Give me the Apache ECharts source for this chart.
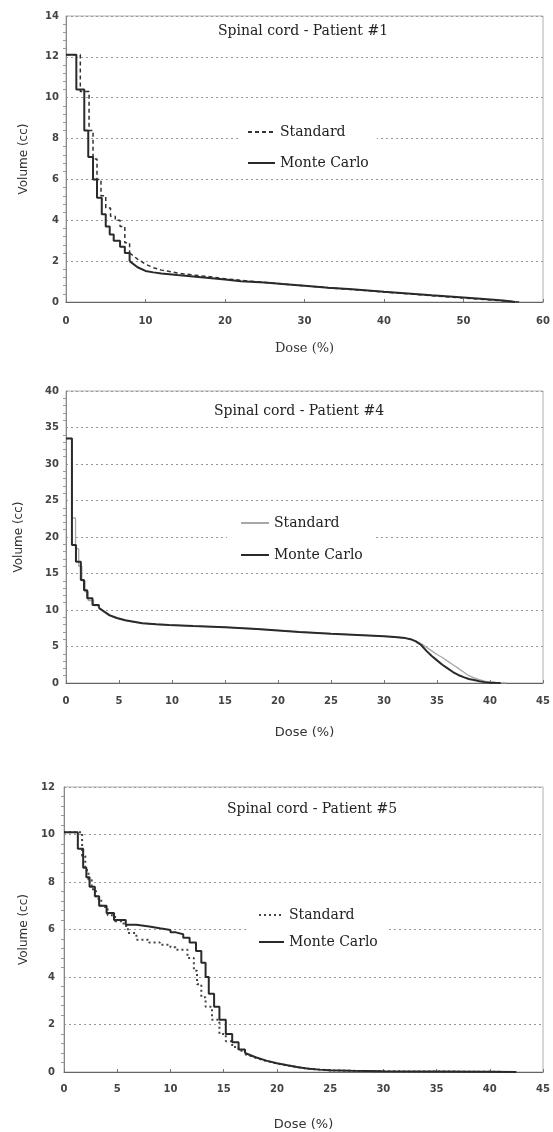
<!DOCTYPE html>
<html>
<head>
<meta charset="utf-8">
<script src="https://cdn.jsdelivr.net/npm/echarts@6/dist/echarts.min.js"></script>
<style>html,body{margin:0;padding:0;background:#fff}#c{width:553px;height:1132px}</style>
</head>
<body>
<div id="c"></div>
<script>
// ---- Data ----
var titles = ['Spinal cord - Patient #1', 'Spinal cord - Patient #4', 'Spinal cord - Patient #5'];
var seriesNames = ['Standard', 'Monte Carlo'];
var xTitle = 'Dose (%)';
var yTitle = 'Volume (cc)';

// Patient #1 : stepped low-dose part + smooth tail
var p1StdStepDose = [0, 1.8, 2.9, 3.4, 3.9, 4.4, 5.0, 5.6, 6.2, 6.8, 7.4, 8.0];
var p1StdStepVol  = [12.1, 10.3, 8.4, 7.0, 6.0, 5.2, 4.6, 4.2, 4.0, 3.7, 2.9, 2.4];
var p1StdTailDose = [8.0, 9, 10, 11, 12, 14, 16, 18, 20, 22, 25, 28, 30, 33, 36, 40, 43, 46, 50, 53, 55, 57];
var p1StdTailVol  = [2.4, 2.1, 1.85, 1.68, 1.56, 1.42, 1.32, 1.24, 1.14, 1.06, 0.96, 0.86, 0.79, 0.7, 0.61, 0.49, 0.4, 0.31, 0.19, 0.11, 0.05, 0];
var p1MCStepDose  = [0, 1.3, 2.3, 2.8, 3.4, 3.9, 4.5, 5.0, 5.5, 6.0, 6.8, 7.4, 8.0];
var p1MCStepVol   = [12.1, 10.4, 8.4, 7.1, 6.0, 5.1, 4.3, 3.7, 3.3, 3.0, 2.7, 2.4, 2.0];
var p1MCTailDose  = [8.0, 9, 10, 11, 12, 14, 16, 18, 20, 22, 25, 28, 30, 33, 36, 40, 43, 46, 50, 53, 55, 56.5];
var p1MCTailVol   = [2.0, 1.7, 1.52, 1.45, 1.4, 1.32, 1.25, 1.18, 1.1, 1.02, 0.95, 0.86, 0.8, 0.7, 0.62, 0.5, 0.42, 0.33, 0.22, 0.13, 0.07, 0];

// Patient #4
var p4StdStepDose = [0, 0.56, 0.9, 1.2, 1.5, 1.8, 2.1, 2.6, 3.1];
var p4StdStepVol  = [33.5, 22.6, 18.4, 16.0, 14.0, 12.5, 11.3, 10.6, 10.2];
var p4StdTailDose = [3.1, 3.6, 4.1, 4.8, 5.6, 6.4, 7.2, 8.5, 9.7, 12, 15, 18, 20, 22, 25, 28, 30, 31, 32, 32.5, 33, 33.5, 34, 34.5, 35, 35.5, 36, 36.5, 37, 37.5, 38, 38.5, 39, 39.5, 40, 40.5, 41, 41.5];
var p4StdTailVol  = [10.2, 9.7, 9.2, 8.85, 8.55, 8.35, 8.2, 8.05, 7.95, 7.8, 7.65, 7.4, 7.2, 7.0, 6.75, 6.55, 6.4, 6.3, 6.15, 6.0, 5.75, 5.4, 4.9, 4.4, 3.9, 3.5, 3.0, 2.5, 2.0, 1.5, 1.0, 0.7, 0.45, 0.25, 0.12, 0.05, 0.02, 0];
var p4MCStepDose  = [0, 0.56, 0.94, 1.4, 1.7, 2.0, 2.5, 3.1];
var p4MCStepVol   = [33.5, 18.9, 16.6, 14.1, 12.7, 11.6, 10.7, 10.3];
var p4MCTailDose  = [3.1, 3.6, 4.1, 4.8, 5.6, 6.4, 7.2, 8.5, 9.7, 12, 15, 18, 20, 22, 25, 28, 30, 31, 32, 32.5, 33, 33.5, 34, 34.5, 35, 35.5, 36, 36.5, 37, 37.5, 38, 38.5, 39, 39.5, 40, 40.5, 41];
var p4MCTailVol   = [10.3, 9.8, 9.3, 8.9, 8.6, 8.4, 8.2, 8.05, 7.95, 7.8, 7.65, 7.4, 7.2, 7.0, 6.75, 6.55, 6.4, 6.3, 6.15, 6.0, 5.7, 5.2, 4.4, 3.7, 3.1, 2.5, 2.0, 1.5, 1.1, 0.8, 0.55, 0.4, 0.25, 0.12, 0.05, 0.02, 0];

// Patient #5
var p5StdStepDose = [0, 1.7, 2.0, 2.3, 2.6, 3.0, 3.5, 4.1, 4.8, 5.6, 6.0, 6.8, 8, 9, 10, 10.5, 11.6, 12.2, 12.5, 12.9, 13.3, 13.9, 14.6, 15.2, 15.8, 16.4, 17];
var p5StdStepVol  = [10.1, 9.1, 8.5, 8.1, 7.7, 7.3, 6.95, 6.6, 6.35, 6.15, 5.85, 5.57, 5.45, 5.36, 5.25, 5.15, 4.8, 4.26, 3.7, 3.15, 2.75, 2.2, 1.6, 1.3, 1.05, 0.9, 0.75];
var p5StdTailDose = [17, 18, 19, 20, 21, 22, 23, 24, 25, 27, 30, 35, 40, 42.5];
var p5StdTailVol  = [0.75, 0.6, 0.46, 0.36, 0.27, 0.2, 0.14, 0.1, 0.07, 0.05, 0.03, 0.02, 0.01, 0];
var p5MCStepDose  = [0, 1.3, 1.8, 2.1, 2.4, 2.9, 3.3, 4.0, 4.7, 5.8, 6.8, 8, 9, 10, 10.5, 11.2, 11.8, 12.4, 12.9, 13.3, 13.6, 14.1, 14.6, 15.2, 15.8, 16.4, 17];
var p5MCStepVol   = [10.1, 9.4, 8.6, 8.2, 7.8, 7.4, 7.0, 6.7, 6.4, 6.2, 6.13, 6.05, 5.98, 5.88, 5.8, 5.65, 5.45, 5.1, 4.6, 4.0, 3.3, 2.75, 2.2, 1.6, 1.25, 0.95, 0.8];
var p5MCTailDose  = [17, 18, 19, 20, 21, 22, 23, 24, 25, 27, 30, 35, 40, 42.5];
var p5MCTailVol   = [0.8, 0.62, 0.48, 0.37, 0.28, 0.2, 0.14, 0.1, 0.07, 0.05, 0.03, 0.02, 0.01, 0];

// Axis ranges
var xMax = [60, 45, 45];
var xStep = [10, 5, 5];
var yMax = [14, 40, 12];
var yStep = [2, 5, 2];

function zip(a, b) { var r = []; for (var i = 0; i < a.length; i++) r.push([a[i], b[i]]); return r; }

var chart = echarts.init(document.getElementById('c'));
var serif = 'DejaVu Serif';
var sans = 'DejaVu Sans';

var grids = [
  {left: 66, right: 10, top: 16, height: 286},
  {left: 66, right: 9, top: 391, height: 292},
  {left: 64, right: 9, top: 787, height: 289}
];
grids.forEach(function (g) { g.show = true; g.borderColor = '#b0b0b0'; g.borderWidth = 1; g.containLabel = false; });

var xNameGap = [40, 43, 46];
var yNameGap = [36, 41, 33];
var xLabelMargin = [14, 13, 12];
var yLabelMargin = [7, 7, 9];

var xAxes = [], yAxes = [];
for (var i = 0; i < 3; i++) {
  xAxes.push({
    type: 'value', gridIndex: i, min: 0, max: xMax[i], interval: xStep[i],
    name: xTitle, nameLocation: 'middle', nameGap: xNameGap[i],
    nameTextStyle: {fontFamily: i === 0 ? serif : sans, fontSize: 13, color: '#333'},
    axisLine: {show: true, lineStyle: {color: '#666', width: 1}},
    axisTick: {show: true, inside: true, length: 3, lineStyle: {color: '#777'}},
    axisLabel: {fontFamily: sans, fontWeight: 'bold', fontSize: 10, color: '#444', margin: xLabelMargin[i]},
    splitLine: {show: false}
  });
  yAxes.push({
    type: 'value', gridIndex: i, min: 0, max: yMax[i], interval: yStep[i],
    name: yTitle, nameLocation: 'middle', nameGap: yNameGap[i], nameRotate: 90,
    nameTextStyle: {fontFamily: sans, fontSize: 12, color: '#333'},
    axisLine: {show: true, lineStyle: {color: '#888', width: 1}},
    axisTick: {show: false},
    minorTick: {show: true, inside: true, splitNumber: 5, length: 3, lineStyle: {color: '#999'}},
    axisLabel: {fontFamily: sans, fontWeight: 'bold', fontSize: 10, color: '#444', margin: yLabelMargin[i]},
    splitLine: {show: true, lineStyle: {color: '#999', type: [2, 3], width: 1}}
  });
}

var titleList = [
  {text: titles[0], left: 303, top: 24},
  {text: titles[1], left: 299, top: 404},
  {text: titles[2], left: 312, top: 802}
].map(function (t) {
  t.textAlign = 'center';
  t.padding = 0;
  t.textStyle = {fontFamily: serif, fontSize: 14, fontWeight: 'normal', color: '#222'};
  return t;
});

function tag(name, k) { return name + '\u200b'.repeat(k); }

var legends = [
  {left: 238, top: 117, padding: [8, 8, 8, 9], itemGap: 17, itemWidth: 27},
  {left: 227, top: 508, padding: [8, 13, 8, 13], itemGap: 18, itemWidth: 28},
  {left: 248, top: 902, padding: [6, 9, 6, 10], itemGap: 13, itemWidth: 25}
].map(function (l, i) {
  return {
    left: l.left, top: l.top, padding: l.padding, orient: 'vertical',
    itemGap: l.itemGap, itemWidth: l.itemWidth, itemHeight: 14,
    backgroundColor: '#fff',
    itemStyle: {opacity: 0},
    data: [{name: tag(seriesNames[0], i)}, {name: tag(seriesNames[1], i)}],
    textStyle: {fontFamily: serif, fontSize: 14, color: '#222'},
    formatter: function (n) { return n.replace(/\u200b/g, ''); },
    selectedMode: false
  };
});

var stdStyles = [
  {color: '#333', width: 1.5, type: [4, 3]},
  {color: '#a8a8a8', width: 1.3, type: 'solid'},
  {color: '#444', width: 2, type: [2, 3]}
];
var mcStyle = {color: '#2a2a2a', width: 2, type: 'solid'};

var stdStep = [zip(p1StdStepDose, p1StdStepVol), zip(p4StdStepDose, p4StdStepVol), zip(p5StdStepDose, p5StdStepVol)];
var stdTail = [zip(p1StdTailDose, p1StdTailVol), zip(p4StdTailDose, p4StdTailVol), zip(p5StdTailDose, p5StdTailVol)];
var mcStep = [zip(p1MCStepDose, p1MCStepVol), zip(p4MCStepDose, p4MCStepVol), zip(p5MCStepDose, p5MCStepVol)];
var mcTail = [zip(p1MCTailDose, p1MCTailVol), zip(p4MCTailDose, p4MCTailVol), zip(p5MCTailDose, p5MCTailVol)];

var series = [];
function addSeries(name, k, data, step, style, z) {
  series.push({
    name: tag(name, k), type: 'line', xAxisIndex: k, yAxisIndex: k,
    data: data, step: step, symbol: 'none', silent: true,
    lineStyle: style, itemStyle: {color: style.color}, z: z
  });
}
for (var k = 0; k < 3; k++) {
  addSeries(seriesNames[0], k, stdStep[k], 'end', stdStyles[k], 3);
  addSeries(seriesNames[0], k, stdTail[k], false, stdStyles[k], 3);
  addSeries(seriesNames[1], k, mcStep[k], 'end', mcStyle, 4);
  addSeries(seriesNames[1], k, mcTail[k], false, mcStyle, 4);
}

chart.setOption({
  animation: false,
  backgroundColor: '#fff',
  title: titleList,
  legend: legends,
  grid: grids,
  xAxis: xAxes,
  yAxis: yAxes,
  series: series
});
</script>
</body>
</html>
